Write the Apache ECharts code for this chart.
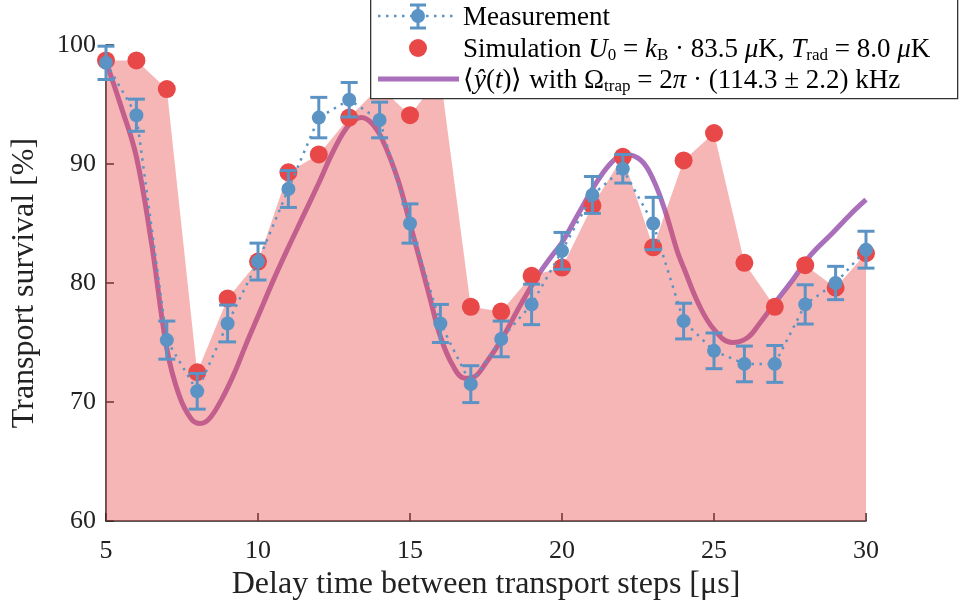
<!DOCTYPE html>
<html>
<head>
<meta charset="utf-8">
<title>Transport survival vs delay time</title>
<script src="https://cdn.jsdelivr.net/npm/echarts@6/dist/echarts.min.js"></script>
<style>
  html, body { margin: 0; background: #fff; }
  #main { width: 966px; height: 608px; }
</style>
</head>
<body>
<div id="main"></div>
<script>
// delay time between transport steps [us]
var delay = [5, 6, 7, 8, 9, 10, 11, 12, 13, 14, 15, 16, 17, 18, 19, 20, 21, 22, 23, 24, 25, 26, 27, 28, 29, 30];
// measured transport survival [%] and its error
var measured = [98.5, 94.1, 75.2, 70.9, 76.6, 81.8, 87.9, 93.9, 95.4, 93.7, 85.0, 76.6, 71.5, 75.3, 78.2, 82.7, 87.4, 89.6, 85.0, 76.8, 74.3, 73.2, 73.2, 78.2, 80.0, 82.8];
var measErr  = [1.4, 1.35, 1.6, 1.5, 1.55, 1.55, 1.55, 1.7, 1.45, 1.5, 1.65, 1.6, 1.55, 1.5, 1.7, 1.55, 1.55, 1.2, 2.2, 1.5, 1.5, 1.5, 1.55, 1.65, 1.4, 1.55];
// simulation
var simulated = [98.7, 98.7, 96.3, 72.5, 78.7, 81.8, 89.3, 90.8, 93.9, 96.5, 94.1, 97.4, 78.0, 77.6, 80.6, 81.3, 86.5, 90.6, 83.0, 90.3, 92.6, 81.7, 78.0, 81.5, 79.6, 82.5];
// model curve <y(t)>
var fitT = [5.0, 5.5, 6.0, 6.5, 7.0, 7.4, 7.8, 8.1, 8.4, 8.8, 9.2, 9.6, 10.0, 10.5, 11.0, 11.5, 12.0, 12.5, 13.0, 13.4, 13.75, 14.1, 14.6, 15.0, 15.4, 15.7, 16.0, 16.4, 16.8, 17.1, 17.5, 18.0, 18.6, 19.2, 19.7, 20.0, 20.6, 21.2, 21.7, 22.1, 22.6, 23.0, 23.4, 23.8, 24.0, 24.5, 25.0, 25.6, 26.1, 26.5, 27.0, 27.6, 28.2, 28.9, 29.5, 30.0];
var fitY = [98.6, 94.8, 90.6, 83.3, 74.5, 70.6, 68.6, 68.2, 68.6, 70.2, 72.3, 74.8, 77.2, 80.2, 83.0, 85.7, 88.4, 91.2, 93.3, 93.9, 93.4, 92.0, 88.7, 85.0, 81.2, 78.3, 75.5, 73.1, 72.0, 72.1, 73.3, 75.2, 78.0, 80.6, 82.4, 83.4, 86.1, 88.7, 90.3, 90.8, 90.3, 88.7, 86.0, 82.6, 81.3, 78.2, 76.1, 75.0, 75.4, 76.6, 78.3, 80.3, 82.4, 84.2, 85.8, 87.0];
var yTicks = [60, 70, 80, 90, 100];

var BLUE = '#5b93c4', RED = '#e84848', PURPLE = '#a96fba';
var FONT = 'Liberation Serif';

var zip = function (xs, ys) { return xs.map(function (x, i) { return [x, ys[i]]; }); };
var errData = delay.map(function (x, i) { return [x, measured[i] - measErr[i], measured[i] + measErr[i]]; });

function renderErr(params, api) {
  var x = api.value(0);
  var lo = api.coord([x, api.value(1)]);
  var hi = api.coord([x, api.value(2)]);
  var w = 8.5;
  var st = { stroke: BLUE, lineWidth: 3 };
  return {
    type: 'group',
    children: [
      { type: 'line', shape: { x1: hi[0], y1: hi[1], x2: lo[0], y2: lo[1] }, style: st },
      { type: 'line', shape: { x1: hi[0] - w, y1: hi[1], x2: hi[0] + w, y2: hi[1] }, style: st },
      { type: 'line', shape: { x1: lo[0] - w, y1: lo[1], x2: lo[0] + w, y2: lo[1] }, style: st }
    ]
  };
}

var chart = echarts.init(document.getElementById('main'));

var rich = {
  n: { fontFamily: FONT, fontSize: 27, color: '#111', lineHeight: 30, verticalAlign: 'middle' },
  i: { fontFamily: FONT, fontSize: 27, fontStyle: 'italic', color: '#111', lineHeight: 30, verticalAlign: 'middle' },
  s: { fontFamily: FONT, fontSize: 17, color: '#111', lineHeight: 14, verticalAlign: 'bottom' }
};

chart.setOption({
  animation: false,
  backgroundColor: '#fff',
  grid: { left: 106, right: 100, top: 45, bottom: 87 },
  xAxis: {
    type: 'value', min: 5, max: 30, interval: 5,
    name: 'Delay time between transport steps [μs]',
    nameLocation: 'middle', nameGap: 44,
    nameTextStyle: { fontFamily: FONT, fontSize: 32, color: '#222' },
    axisLine: { lineStyle: { color: '#222', width: 1.5 } },
    axisTick: { inside: true, length: 8, lineStyle: { color: '#222', width: 1.5 } },
    axisLabel: { fontFamily: FONT, fontSize: 26, color: '#222', margin: 17 },
    splitLine: { show: false }
  },
  yAxis: {
    type: 'value', min: yTicks[0], max: yTicks[yTicks.length - 1], interval: 10,
    name: 'Transport survival [%]',
    nameLocation: 'middle', nameGap: 65,
    nameTextStyle: { fontFamily: FONT, fontSize: 32, color: '#222' },
    axisLine: { show: true, lineStyle: { color: '#222', width: 1.5 } },
    axisTick: { show: true, inside: true, length: 8, lineStyle: { color: '#222', width: 1.5 } },
    axisLabel: { fontFamily: FONT, fontSize: 26, color: '#222', margin: 10 },
    splitLine: { show: false }
  },
  series: [
    {
      name: 'fit', type: 'line', data: zip(fitT, fitY), smooth: 0.4,
      showSymbol: false, z: 1,
      lineStyle: { color: PURPLE, width: 5 }
    },
    {
      name: 'simArea', type: 'line', data: zip(delay, simulated),
      showSymbol: false, z: 2,
      lineStyle: { width: 0 },
      areaStyle: { color: RED, opacity: 0.4, origin: 'start' }
    },
    {
      name: 'Simulation', type: 'scatter', data: zip(delay, simulated),
      symbolSize: 18, z: 3,
      itemStyle: { color: RED, opacity: 1 }
    },
    {
      name: 'measLine', type: 'line', data: zip(delay, measured),
      showSymbol: false, z: 4,
      lineStyle: { color: BLUE, width: 2.5, type: [2.5, 5.5] }
    },
    {
      name: 'err', type: 'custom', data: errData, renderItem: renderErr, z: 5
    },
    {
      name: 'Measurement', type: 'scatter', data: zip(delay, measured),
      symbolSize: 14, z: 6,
      itemStyle: { color: BLUE, opacity: 1 }
    }
  ],
  graphic: [
    { type: 'rect', left: 370, top: -2, shape: { width: 587, height: 100 }, z: 100,
      style: { fill: '#fff', stroke: '#333', lineWidth: 1.3 } },
    { type: 'line', z: 101, shape: { x1: 378, y1: 16, x2: 455, y2: 16 },
      style: { stroke: BLUE, lineWidth: 2.5, lineDash: [2.5, 5.5] } },
    { type: 'line', z: 101, shape: { x1: 418, y1: 5, x2: 418, y2: 28 }, style: { stroke: BLUE, lineWidth: 3 } },
    { type: 'line', z: 101, shape: { x1: 410, y1: 5, x2: 426, y2: 5 }, style: { stroke: BLUE, lineWidth: 3 } },
    { type: 'line', z: 101, shape: { x1: 410, y1: 28, x2: 426, y2: 28 }, style: { stroke: BLUE, lineWidth: 3 } },
    { type: 'circle', z: 102, shape: { cx: 418, cy: 16, r: 7 }, style: { fill: BLUE } },
    { type: 'circle', z: 101, shape: { cx: 418, cy: 48, r: 9 }, style: { fill: RED } },
    { type: 'line', z: 101, shape: { x1: 378, y1: 79, x2: 459, y2: 79 }, style: { stroke: PURPLE, lineWidth: 5 } },
    { type: 'text', z: 101, left: 463, top: 4,
      style: { text: '{n|Measurement}', rich: rich } },
    { type: 'text', z: 101, left: 463, top: 36,
      style: { text: '{n|Simulation }{i|U}{s|0}{n| = }{i|k}{s|B}{n| · 83.5 }{i|μ}{n|K, }{i|T}{s|rad}{n| = 8.0 }{i|μ}{n|K}', rich: rich } },
    { type: 'text', z: 101, left: 463, top: 67,
      style: { text: '{n|⟨}{i|ŷ}{n|(}{i|t}{n|)⟩ with Ω}{s|trap}{n| = 2}{i|π}{n| · (114.3 ± 2.2) kHz}', rich: rich } }
  ]
});
</script>
</body>
</html>
